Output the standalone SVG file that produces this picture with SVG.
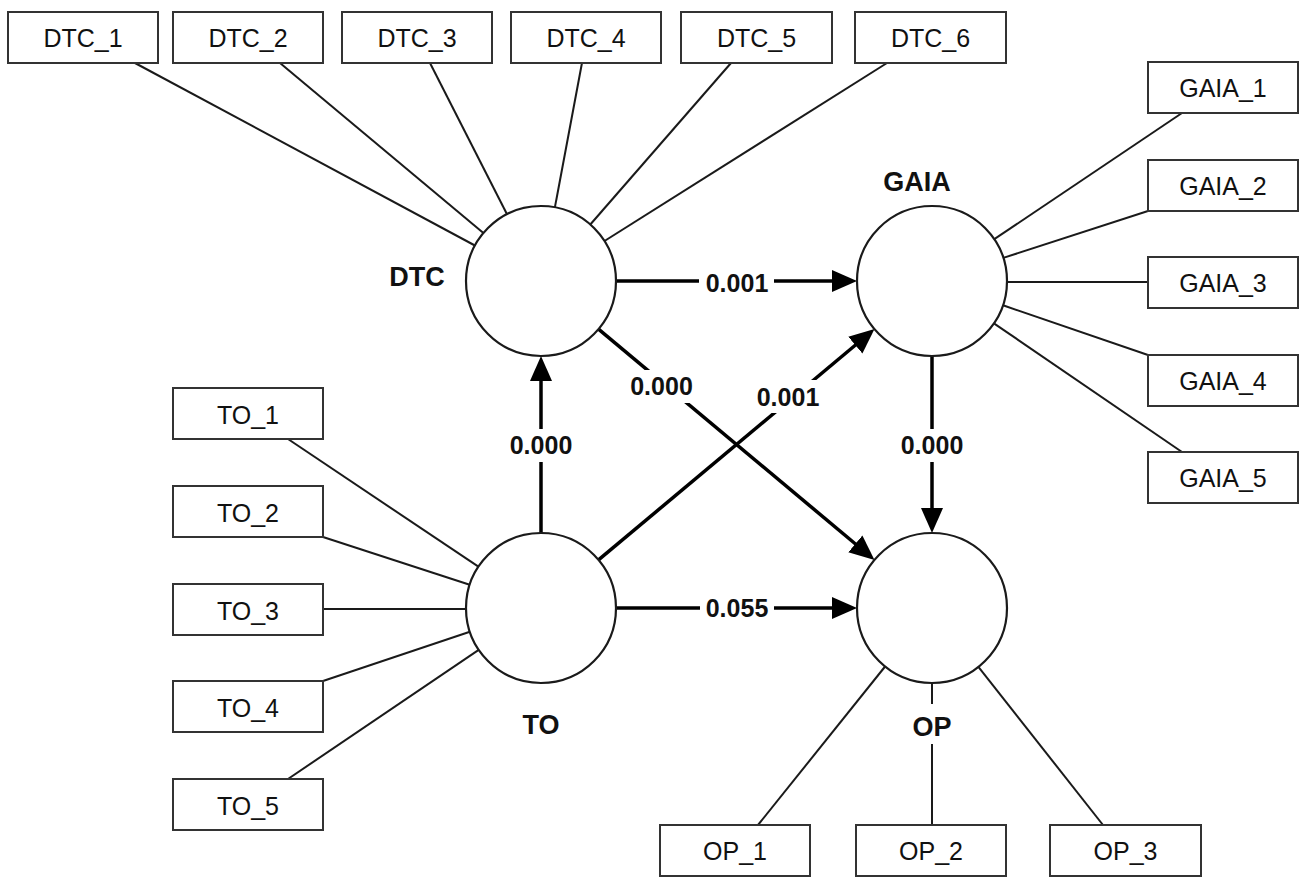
<svg xmlns="http://www.w3.org/2000/svg" width="1301" height="878" viewBox="0 0 1301 878">
<style>
.box{fill:#fff;stroke:#333;stroke-width:2}
.bt{font-family:"Liberation Sans",Arial,sans-serif;font-size:25px;fill:#111;text-anchor:middle}
.lv{fill:#fff;stroke:#1a1a1a;stroke-width:2.2}
.ll{font-family:"Liberation Sans",Arial,sans-serif;font-size:27px;font-weight:bold;fill:#111;text-anchor:middle}
.ld{stroke:#1a1a1a;stroke-width:2;fill:none}
.pa{stroke:#000;stroke-width:3.5;fill:none;marker-end:url(#ah)}
.pl{font-family:"Liberation Sans",Arial,sans-serif;font-size:25px;font-weight:bold;fill:#111;text-anchor:middle}
.bg{fill:#fff;stroke:none}
</style>
<defs>
<marker id="ah" markerUnits="userSpaceOnUse" markerWidth="26" markerHeight="24" refX="1" refY="11" orient="auto" viewBox="0 0 26 22">
<path d="M0,0 L25,11 L0,22 z" fill="#000"/>
</marker>
</defs>
<rect width="1301" height="878" fill="#fff"/>
<g id="connectors">
<line class="ld" x1="135" y1="63" x2="474.9" y2="245.5"/>
<line class="ld" x1="280" y1="63" x2="483.4" y2="232.9"/>
<line class="ld" x1="430" y1="63" x2="507.0" y2="214.2"/>
<line class="ld" x1="582" y1="63" x2="554.9" y2="207.3"/>
<line class="ld" x1="731" y1="63" x2="590.3" y2="224.5"/>
<line class="ld" x1="887" y1="63" x2="604.5" y2="241.0"/>
<line class="ld" x1="1182" y1="113" x2="994.3" y2="239.2"/>
<line class="ld" x1="1148" y1="211" x2="1003.3" y2="257.9"/>
<line class="ld" x1="1148" y1="282" x2="1007" y2="282"/>
<line class="ld" x1="1148" y1="355" x2="1003.0" y2="305.3"/>
<line class="ld" x1="1182" y1="452" x2="993.9" y2="323.3"/>
<line class="ld" x1="288" y1="439" x2="478.4" y2="566.7"/>
<line class="ld" x1="323" y1="537" x2="469.7" y2="584.8"/>
<line class="ld" x1="323" y1="609" x2="466" y2="609"/>
<line class="ld" x1="323" y1="681" x2="469.9" y2="631.8"/>
<line class="ld" x1="288" y1="779" x2="478.7" y2="649.8"/>
<line class="ld" x1="885.1" y1="666.5" x2="758" y2="825"/>
<line class="ld" x1="932" y1="683" x2="932" y2="825"/>
<line class="ld" x1="978.4" y1="666.9" x2="1103" y2="825"/>
<line class="pa" x1="616" y1="281" x2="833" y2="281"/>
<line class="pa" x1="541" y1="533" x2="541" y2="380"/>
<line class="pa" x1="932" y1="356" x2="932" y2="509"/>
<line class="pa" x1="616" y1="608" x2="833" y2="608"/>
<line class="pa" x1="598.5" y1="329.1" x2="856.1" y2="544.5"/>
<line class="pa" x1="598.5" y1="559.9" x2="856.1" y2="344.5"/>
<rect class="bg" x="699" y="266" width="75" height="32"/>
<text class="pl" x="737" y="292">0.001</text>
<rect class="bg" x="509" y="429" width="64" height="33"/>
<text class="pl" x="541" y="454">0.000</text>
<rect class="bg" x="900" y="429" width="64" height="33"/>
<text class="pl" x="932" y="454">0.000</text>
<rect class="bg" x="700" y="593" width="74" height="32"/>
<text class="pl" x="737" y="617">0.055</text>
<rect class="bg" x="624" y="370" width="75" height="33"/>
<text class="pl" x="661.5" y="395">0.000</text>
<rect class="bg" x="752" y="380" width="72" height="33"/>
<text class="pl" x="788" y="406">0.001</text>
</g>
<g id="DTC"><circle class="lv" cx="541" cy="281" r="75"/><text class="ll" x="417" y="286">DTC</text></g>
<g id="GAIA"><circle class="lv" cx="932" cy="281" r="75"/><text class="ll" x="917" y="191">GAIA</text></g>
<g id="TO"><circle class="lv" cx="541" cy="608" r="75"/><text class="ll" x="541" y="734">TO</text></g>
<g id="OP"><circle class="lv" cx="932" cy="608" r="75"/><rect class="bg" x="906" y="704" width="52" height="40"/><text class="ll" x="932" y="736">OP</text></g>
<g id="DTC_1"><rect class="box" x="8" y="12" width="150" height="51"/><text class="bt" x="83" y="47">DTC_1</text></g>
<g id="DTC_2"><rect class="box" x="173" y="12" width="150" height="51"/><text class="bt" x="248" y="47">DTC_2</text></g>
<g id="DTC_3"><rect class="box" x="342" y="12" width="150" height="51"/><text class="bt" x="417" y="47">DTC_3</text></g>
<g id="DTC_4"><rect class="box" x="511" y="12" width="150" height="51"/><text class="bt" x="586" y="47">DTC_4</text></g>
<g id="DTC_5"><rect class="box" x="681" y="12" width="151" height="51"/><text class="bt" x="756.5" y="47">DTC_5</text></g>
<g id="DTC_6"><rect class="box" x="855" y="12" width="151" height="51"/><text class="bt" x="930.5" y="47">DTC_6</text></g>
<g id="GAIA_1"><rect class="box" x="1148" y="62" width="150" height="51"/><text class="bt" x="1223" y="97">GAIA_1</text></g>
<g id="GAIA_2"><rect class="box" x="1148" y="160" width="150" height="51"/><text class="bt" x="1223" y="195">GAIA_2</text></g>
<g id="GAIA_3"><rect class="box" x="1148" y="257" width="150" height="51"/><text class="bt" x="1223" y="292">GAIA_3</text></g>
<g id="GAIA_4"><rect class="box" x="1148" y="355" width="150" height="51"/><text class="bt" x="1223" y="390">GAIA_4</text></g>
<g id="GAIA_5"><rect class="box" x="1148" y="452" width="150" height="51"/><text class="bt" x="1223" y="487">GAIA_5</text></g>
<g id="TO_1"><rect class="box" x="173" y="388" width="150" height="51"/><text class="bt" x="248" y="424">TO_1</text></g>
<g id="TO_2"><rect class="box" x="173" y="486" width="150" height="51"/><text class="bt" x="248" y="522">TO_2</text></g>
<g id="TO_3"><rect class="box" x="173" y="584" width="150" height="51"/><text class="bt" x="248" y="620">TO_3</text></g>
<g id="TO_4"><rect class="box" x="173" y="681" width="150" height="51"/><text class="bt" x="248" y="717">TO_4</text></g>
<g id="TO_5"><rect class="box" x="173" y="779" width="150" height="51"/><text class="bt" x="248" y="815">TO_5</text></g>
<g id="OP_1"><rect class="box" x="660" y="825" width="150" height="51"/><text class="bt" x="735" y="860">OP_1</text></g>
<g id="OP_2"><rect class="box" x="856" y="825" width="150" height="51"/><text class="bt" x="931" y="860">OP_2</text></g>
<g id="OP_3"><rect class="box" x="1050" y="825" width="151" height="51"/><text class="bt" x="1125.5" y="860">OP_3</text></g>
</svg>
